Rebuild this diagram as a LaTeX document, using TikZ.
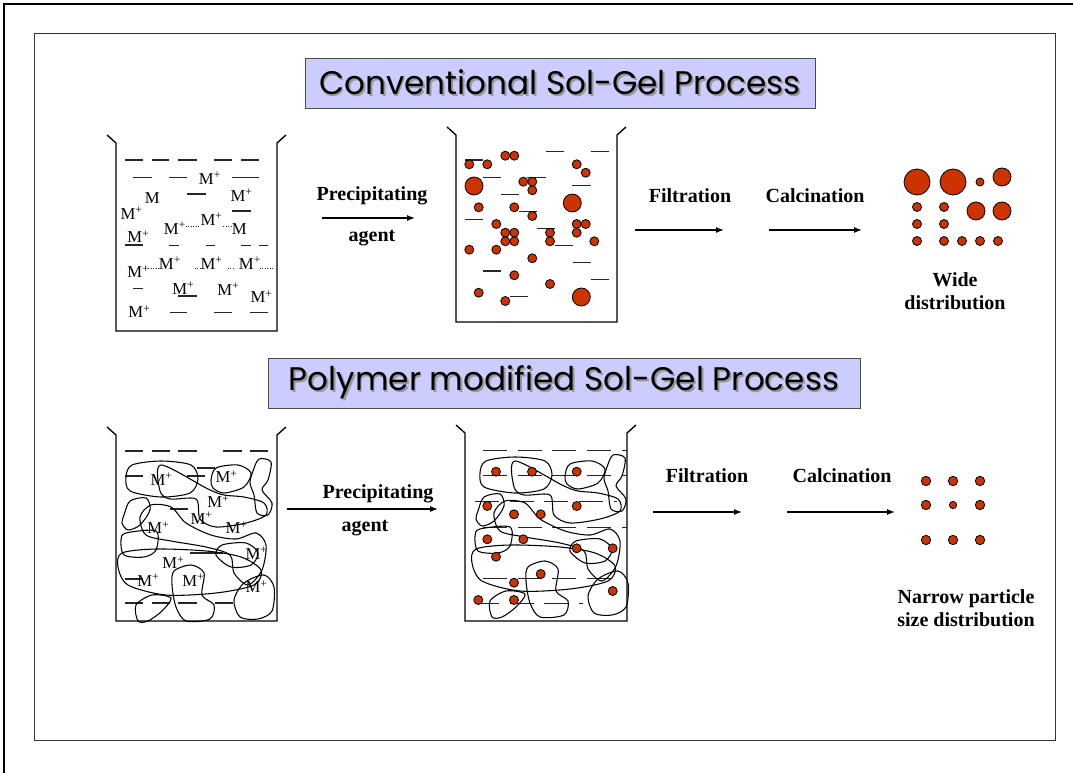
\documentclass[tikz,border=0pt]{standalone}
\usepackage{fontspec}
\setmainfont{Liberation Serif}
\newfontfamily\slidefont{Poppins}
\usetikzlibrary{arrows.meta}

\definecolor{oxide}{HTML}{CC3300}
\definecolor{slideblue}{HTML}{CCCCFF}

% heading text with a soft grey drop shadow
\newcommand{\shadowed}[1]{\makebox[0pt][l]{\kern1.4pt\raisebox{-1.4pt}{\textcolor{black!40}{#1}}}#1}
\newcommand{\ion}{M\textsuperscript{+}}
% beaker: left x, right x, rim y, bottom y
\newcommand{\drawbeaker}[4]{%
  \draw[beakerwall] (#1-9,#3-8) -- (#1,#3) -- (#1,#4) -- (#2,#4) -- (#2,#3) -- (#2+9,#3-8);}

\tikzset{
  heading/.style={draw=black!70, fill=slideblue, inner sep=0pt, minimum height=37.5pt,
    font=\slidefont\fontsize{24.5}{26}\selectfont},
  steplabel/.style={font=\bfseries\fontsize{15}{17}\selectfont, align=center, inner sep=0pt},
  ionlabel/.style={font=\fontsize{12.5}{13}\selectfont, inner sep=0pt},
  flow/.style={-{Latex[length=6pt,width=4.5pt]}, line width=0.9pt},
  particle/.style={draw=black, fill=oxide, line width=0.6pt},
  charge/.style={line width=0.8pt, black!85},
  polymer/.style={line width=0.8pt},
  beakerwall/.style={line width=1pt}
}

\begin{document}
\begin{tikzpicture}[x=0.75pt, y=-0.75pt]
  \useasboundingbox (0,0) rectangle (1073,773);
  % slide frame
  \draw[line width=2.2pt] (4,773) -- (4,4) -- (1073,4);
  \draw[line width=0.7pt, black!80] (34,33) rectangle (1055,740);

  % ---------------- conventional route ----------------
  \node[heading, minimum width=382.5pt] (convhead) at (560,83) {\shadowed{Conventional Sol-Gel Process}};

  \drawbeaker{116}{277}{143}{331}
  \foreach \xa/\xb/\y in {125/142.7/160, 151.7/169.3/160, 178.3/196.7/160, 214/232.3/160, 241/259.3/160,
                          133.3/151.7/177.3, 169/187.3/177.3, 232.3/259.3/177.3,
                          187.3/206/194, 232.3/250.7/211,
                          125/142.7/245, 169/179/245.7, 206/215/245.7, 241/250.7/245.7, 259.3/268.3/245.7,
                          133.3/143.3/288.3, 178.3/196.7/296,
                          170/187.3/312.3, 214.3/232.3/312.3, 250/267.7/312.3}{%
    \draw[charge] (\xa,\y) -- (\xb,\y);
  }
  \foreach \xa/\xb/\y in {186/200/226.7, 223.3/232.7/226.7, 148.3/158.3/268.3,
                          195/200/268.3, 228/233/268.3, 260/273.3/268.3}{%
    \draw[charge, densely dotted] (\xa,\y) -- (\xb,\y);
  }
  \foreach \x/\y/\t [count=\k] in {210/178.3/\ion, 152.3/197.7/M, 241.7/195/\ion, 131.7/213.3/\ion,
                                   175/228.3/\ion, 211.7/219/\ion, 239.3/229.3/M, 138.3/236.7/\ion,
                                   138.3/271.7/\ion, 170/263.3/\ion, 211.7/263.3/\ion, 250/263.3/\ion,
                                   183.3/288.3/\ion, 228.3/289.3/\ion, 261.7/296.7/\ion, 139.3/311.7/\ion}{%
    \node[ionlabel] (solion\k) at (\x,\y) {\t};
  }

  \node[steplabel] (convprec) at (372,196) {Precipitating};
  \node[steplabel] (convagent) at (372,238) {agent};
  \coordinate (convprecA) at (322,218);
  \coordinate (convprecB) at (415,218);
  \draw[flow] (convprecA) -- (convprecB);

  \drawbeaker{456}{617}{135}{322}
  \foreach \xa/\xb/\y in {465/483/160, 546/564/151.7, 590.7/608.7/151.7, 483.3/501.3/177.3,
                          527.3/545.7/177.3, 501.3/519/194.3, 572/590.7/185.7, 519/537/211.3,
                          465/483.3/219.7, 537/554.7/228.3, 554.7/572.7/245.7, 572.7/590.7/262.7,
                          483.3/501.3/271, 590.7/608.7/279.7, 510/528/296.7}{%
    \draw[charge] (\xa,\y) -- (\xb,\y);
  }
  \foreach \x/\y in {469.3/164.3, 487.3/164.3, 505.3/155.7, 514.3/155.7, 576.7/164.3, 585.7/172.7,
                     523.3/181.7, 532.3/181.7, 532.3/190.3, 478.7/207.3, 514.3/207.3, 532.3/216,
                     496.3/224, 576.7/224, 585.7/224, 576.7/232.7, 505.3/232.7, 514.3/232.7,
                     505.3/241.3, 514.3/241.3, 550/232.7, 550/241.3, 594.3/241.3, 469.3/249.7,
                     496.3/249.7, 532.3/258.3, 514.3/275.3, 550/284, 478.7/292.7, 505.3/301}{%
    \draw[particle] (\x,\y) circle (4.5);
  }
  \foreach \x/\y in {474/186, 572.3/203, 581.3/297}{%
    \draw[particle] (\x,\y) circle (9);
  }

  \node[steplabel] (convfilt) at (690,196) {Filtration};
  \coordinate (convfiltA) at (635,230);
  \coordinate (convfiltB) at (724,230);
  \draw[flow] (convfiltA) -- (convfiltB);
  \node[steplabel] (convcalc) at (815,196) {Calcination};
  \coordinate (convcalcA) at (769,230);
  \coordinate (convcalcB) at (862,230);
  \draw[flow] (convcalcA) -- (convcalcB);

  % wide spread of particle sizes
  \draw[particle] (917,182) circle (13);
  \draw[particle] (953,182) circle (13);
  \draw[particle] (980,182) circle (4);
  \foreach \x/\y in {1002/177, 976/211, 1002/211}{%
    \draw[particle] (\x,\y) circle (9);
  }
  \foreach \x/\y in {917/207, 944/207, 917/224, 944/224, 917/241, 944/241, 962/241, 980/241, 998/241}{%
    \draw[particle] (\x,\y) circle (4.5);
  }
  \node[steplabel] (convwide) at (955,291) {Wide\\distribution};

  % ---------------- polymer route ----------------
  \node[heading, minimum width=444pt] (polyhead) at (564,383) {\shadowed{Polymer modified Sol-Gel Process}};

  % chains of polymer wound through a beaker (origin at the left rim)
  \def\polytangle{%
    \draw[polymer] plot[smooth cycle] coordinates {(10,42) (16,30) (45,26) (75,30) (82,44) (74,58) (45,62) (14,56)};
    \draw[polymer] plot[smooth cycle] coordinates {(95,45) (100,33) (122,30) (135,38) (128,52) (108,58) (97,53)};
    \draw[polymer] plot[smooth cycle] coordinates {(137,36) (143,24) (155,27) (152,45) (146,55) (156,68) (152,80) (141,78) (138,60) (134,48)};
    \draw[polymer] plot[smooth cycle] coordinates {(45,30) (44,56) (54,64) (80,64) (84,84) (100,92) (130,88) (150,80) (148,68) (128,62) (108,60) (92,54)};
    \draw[polymer] plot[smooth cycle] coordinates {(8,80) (14,66) (30,63) (34,75) (24,90) (12,95) (6,88)};
    \draw[polymer] plot[smooth cycle] coordinates {(24,82) (35,70) (55,72) (70,88) (95,100) (120,104) (140,98) (150,110) (146,135) (132,150) (118,138) (114,120) (90,112) (55,106) (30,100)};
    \draw[polymer] plot[smooth cycle] coordinates {(2,132) (6,118) (40,114) (90,116) (125,122) (145,135) (138,150) (100,158) (50,160) (12,150)};
    \draw[polymer] plot[smooth cycle] coordinates {(5,105) (10,98) (40,96) (40,115) (28,122) (8,120)};
    \draw[polymer] plot[smooth cycle] coordinates {(118,165) (128,148) (148,140) (158,152) (156,176) (142,184) (124,182)};
    \draw[polymer] plot[smooth cycle] coordinates {(56,150) (58,136) (75,130) (88,138) (86,160) (98,170) (94,184) (70,186) (60,172)};
    \draw[polymer] plot[smooth cycle] coordinates {(22,186) (20,170) (36,160) (55,163) (46,176) (32,186)};
    \draw[polymer] plot[smooth cycle] coordinates {(100,120) (106,110) (130,108) (142,118) (135,130) (115,132)};
  }

  \drawbeaker{116}{277}{435}{621}
  \foreach \xa/\xb/\y in {125/143.3/451, 151.7/170/451, 178.3/196.7/451, 223.3/241.7/451, 250/268.3/451,
                          125/143/476, 187/205/476, 197/215/468, 170/188/509, 190/223/553, 125/143/579,
                          125/143/603, 151.7/170/603, 178/197/603, 215/233/603}{%
    \draw[charge] (\xa,\y) -- (\xb,\y);
  }
  \begin{scope}[shift={(116,435)}]
    \polytangle
  \end{scope}
  \foreach \x/\y [count=\k] in {161.7/479.3, 226.7/476.7, 218.3/501.7, 201.7/518.3, 158.3/527.7, 236.7/527.7,
                                173.3/562.7, 256.7/553.3, 148.3/580, 193.3/580, 256.7/586.7}{%
    \node[ionlabel] (polyion\k) at (\x,\y) {\ion};
  }

  \node[steplabel] (polyprec) at (378,494) {Precipitating};
  \node[steplabel] (polyagent) at (365,528) {agent};
  \coordinate (polyprecA) at (287,509);
  \coordinate (polyprecB) at (438,509);
  \draw[flow] (polyprecA) -- (polyprecB);

  \drawbeaker{465}{627}{433}{621}
  \foreach \xa/\xb/\y in {483/627/450.7, 483/627/475.7, 475/617/501.7, 483/627/527.3, 483/617/578.3, 475/583/603.3}{%
    \draw[charge, dash pattern=on 18 off 8] (\xa,\y) -- (\xb,\y);
  }
  \begin{scope}[shift={(470,431)}]
    \polytangle
  \end{scope}
  \foreach \x/\y in {496/471.7, 532/471.7, 576.7/471.7, 487.3/506, 576.7/506, 514/514.3, 540.7/514.3,
                     487.3/539.3, 523.3/539.3, 576.7/548.3, 612.7/548.3, 496/556.7, 540.7/574,
                     514/582.7, 612.7/591, 478.3/600, 514/600}{%
    \draw[particle] (\x,\y) circle (4.5);
  }

  \node[steplabel] (polyfilt) at (707,476) {Filtration};
  \coordinate (polyfiltA) at (653,512);
  \coordinate (polyfiltB) at (742,512);
  \draw[flow] (polyfiltA) -- (polyfiltB);
  \node[steplabel] (polycalc) at (842,476) {Calcination};
  \coordinate (polycalcA) at (787,512);
  \coordinate (polycalcB) at (895,512);
  \draw[flow] (polycalcA) -- (polycalcB);

  % narrow spread of particle sizes, one slightly smaller in the middle
  \foreach \x/\y in {926/481, 953/481, 980/481, 926/505, 980/505, 926/540, 953/540, 980/540}{%
    \draw[particle] (\x,\y) circle (4.7);
  }
  \draw[particle] (953,505) circle (3.7);
  \node[steplabel] (polynarrow) at (966,608) {Narrow particle\\size distribution};
\end{tikzpicture}
\end{document}
